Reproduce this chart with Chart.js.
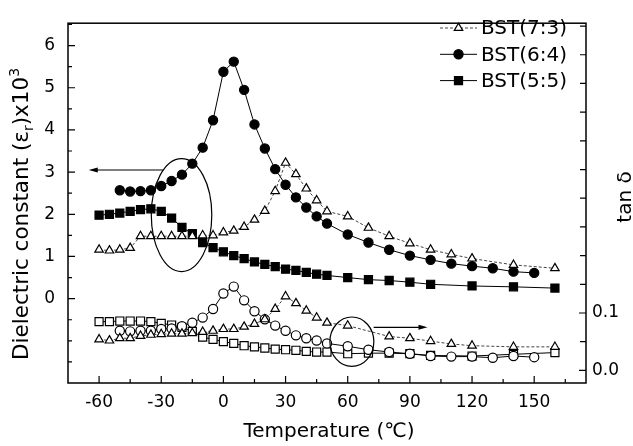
<!DOCTYPE html>
<html><head><meta charset="utf-8">
<script src="https://cdn.jsdelivr.net/npm/chart.js@4/dist/chart.umd.min.js"></script>
<style>html,body{margin:0;padding:0;background:#fff}canvas{display:block}</style>
</head><body>
<canvas id="c" width="633" height="446"></canvas>
<script>
// ---------- data ----------
const seriesLabels = ['BST(7:3)', 'BST(6:4)', 'BST(5:5)'];

const temps73Eps = [-60,-55,-50,-45,-40,-35,-30,-25,-20,-15,-10,-5,0,5,10,15,20,25,30,35,40,45,50,60,70,80,90,100,110,120,140,160];
const eps73 = [1.16,1.14,1.16,1.20,1.48,1.48,1.48,1.48,1.48,1.48,1.50,1.50,1.57,1.61,1.70,1.87,2.08,2.55,3.22,2.95,2.61,2.33,2.07,1.95,1.68,1.48,1.31,1.16,1.05,0.95,0.80,0.72];

const temps64Eps = [-50,-45,-40,-35,-30,-25,-20,-15,-10,-5,0,5,10,15,20,25,30,35,40,45,50,60,70,80,90,100,110,120,130,140,150];
const eps64 = [2.57,2.54,2.55,2.57,2.67,2.79,2.94,3.20,3.58,4.23,5.38,5.62,4.95,4.13,3.56,3.07,2.70,2.40,2.16,1.95,1.78,1.52,1.33,1.16,1.02,0.92,0.83,0.77,0.72,0.64,0.61];

const temps55Eps = [-60,-55,-50,-45,-40,-35,-30,-25,-20,-15,-10,-5,0,5,10,15,20,25,30,35,40,45,50,60,70,80,90,100,120,140,160];
const eps55 = [1.98,2.00,2.03,2.07,2.11,2.13,2.07,1.91,1.69,1.54,1.33,1.21,1.11,1.02,0.95,0.87,0.81,0.76,0.70,0.67,0.62,0.58,0.55,0.50,0.45,0.43,0.39,0.34,0.30,0.28,0.25];

const temps73Tan = [-60,-55,-50,-45,-40,-35,-30,-25,-20,-15,-10,-5,0,5,10,15,20,25,30,35,40,45,50,60,80,90,100,110,120,140,160];
const tan73 = [0.054,0.052,0.056,0.056,0.060,0.062,0.063,0.064,0.064,0.065,0.067,0.069,0.072,0.072,0.076,0.081,0.089,0.107,0.129,0.117,0.104,0.092,0.083,0.078,0.059,0.056,0.051,0.046,0.043,0.041,0.041];

const temps64Tan = [-50,-45,-40,-35,-30,-25,-20,-15,-10,-5,0,5,10,15,20,25,30,35,40,45,50,60,70,80,90,100,110,120,130,140,150];
const tan64 = [0.069,0.068,0.069,0.069,0.072,0.073,0.077,0.083,0.092,0.107,0.134,0.146,0.122,0.103,0.089,0.078,0.069,0.061,0.056,0.052,0.047,0.042,0.036,0.032,0.029,0.025,0.024,0.024,0.022,0.025,0.023];

const temps55Tan = [-60,-55,-50,-45,-40,-35,-30,-25,-20,-15,-10,-5,0,5,10,15,20,25,30,35,40,45,50,60,70,80,90,100,120,140,160];
const tan55 = [0.085,0.085,0.086,0.086,0.086,0.085,0.082,0.079,0.075,0.068,0.058,0.054,0.050,0.047,0.043,0.041,0.039,0.037,0.036,0.035,0.033,0.032,0.032,0.029,0.030,0.030,0.029,0.026,0.025,0.028,0.031];

// tick labels
const xTickLabels = [-60,-30,0,30,60,90,120,150];
const xMinorTicks = [-45,-15,15,45,75,105,135,165];
const yLeftTickLabels = [0,1,2,3,4,5,6];
const yLeftMinorTicks = [-1.5,-1,-0.5,0.5,1.5,2.5,3.5,4.5,5.5,6.5];
const yRightTickLabels = [0.0,0.1];
const yRightMinorTicks = [0.05,0.15,0.2,0.25,0.3,0.35,0.4,0.45,0.5,0.55,0.6];

// ---------- helpers ----------
const pts = (xs, ys) => xs.map((x, i) => ({x: x, y: ys[i]}));
const FONT = '"DejaVu Sans", sans-serif';

function ds(label, xs, ys, axis, style, filled, dashed, r) {
  return {
    label: label, data: pts(xs, ys), yAxisID: axis,
    borderColor: dashed ? '#444' : '#000', borderWidth: 1,
    borderDash: dashed ? [3, 2] : [],
    pointStyle: style, pointRadius: r, pointHoverRadius: r,
    pointBackgroundColor: filled ? '#000' : '#fff',
    pointBorderColor: '#000', pointBorderWidth: 1.2,
    tension: 0, fill: false
  };
}

const datasets = [
  ds(seriesLabels[0], temps73Eps, eps73, 'yL', 'triangle', false, true, 4.9),
  ds(seriesLabels[1], temps64Eps, eps64, 'yL', 'circle', true, false, 4.6),
  ds(seriesLabels[2], temps55Eps, eps55, 'yL', 'rect', true, false, 5.7),
  ds(seriesLabels[0] + ' tanδ', temps73Tan, tan73, 'yR', 'triangle', false, true, 4.9),
  ds(seriesLabels[1] + ' tanδ', temps64Tan, tan64, 'yR', 'circle', false, false, 4.6),
  ds(seriesLabels[2] + ' tanδ', temps55Tan, tan55, 'yR', 'rect', false, false, 5.7)
];

// annotations (in data units): ellipse [cx, cy, rx, ry], arrow [x1, x2, y]
const leftEllipse = [-20.2, 1.98, 14.6, 1.34];
const leftArrow = [-29, -65, 3.05];
const rightEllipse = [62, 0.050, 10.6, 0.043];
const rightArrow = [72.5, 98.5, 0.075];

const overlay = {
  id: 'overlay',
  afterDraw(chart) {
    const ctx = chart.ctx, a = chart.chartArea;
    const x = chart.scales.x, yL = chart.scales.yL, yR = chart.scales.yR;
    ctx.save();
    ctx.strokeStyle = '#000'; ctx.fillStyle = '#000';
    // frame
    ctx.lineWidth = 1.5;
    ctx.strokeRect(a.left, a.top, a.right - a.left, a.bottom - a.top);
    // ticks
    ctx.lineWidth = 1.2;
    ctx.beginPath();
    const tx = (vals, len) => vals.forEach(v => { const p = x.getPixelForValue(v); ctx.moveTo(p, a.bottom); ctx.lineTo(p, a.bottom - len); });
    const tl = (vals, len) => vals.forEach(v => { const p = yL.getPixelForValue(v); ctx.moveTo(a.left, p); ctx.lineTo(a.left + len, p); });
    const tr = (vals, len) => vals.forEach(v => { const p = yR.getPixelForValue(v); ctx.moveTo(a.right, p); ctx.lineTo(a.right - len, p); });
    tx(xTickLabels, 7); tx(xMinorTicks, 4);
    tl(yLeftTickLabels, 7); tl(yLeftMinorTicks, 4);
    tr(yRightTickLabels, 7); tr(yRightMinorTicks, 6);
    ctx.stroke();
    // ellipses
    const ell = (e, ys) => {
      const cx = x.getPixelForValue(e[0]), cy = ys.getPixelForValue(e[1]);
      const rx = Math.abs(x.getPixelForValue(e[0] + e[2]) - cx);
      const ry = Math.abs(ys.getPixelForValue(e[1] + e[3]) - cy);
      ctx.beginPath(); ctx.ellipse(cx, cy, rx, ry, 0, 0, Math.PI * 2); ctx.stroke();
    };
    ctx.lineWidth = 1.2;
    ell(leftEllipse, yL); ell(rightEllipse, yR);
    // arrows
    const arrow = (ar, ys) => {
      const x1 = x.getPixelForValue(ar[0]), x2 = x.getPixelForValue(ar[1]), py = ys.getPixelForValue(ar[2]);
      const d = Math.sign(x2 - x1);
      ctx.beginPath(); ctx.moveTo(x1, py); ctx.lineTo(x2 - d * 6, py); ctx.stroke();
      ctx.beginPath(); ctx.moveTo(x2, py); ctx.lineTo(x2 - d * 9, py - 2.5); ctx.lineTo(x2 - d * 9, py + 2.5); ctx.closePath(); ctx.fill();
    };
    arrow(leftArrow, yL); arrow(rightArrow, yR);
    // legend
    ctx.font = '20px ' + FONT; ctx.textBaseline = 'middle'; ctx.textAlign = 'left';
    [0, 1, 2].forEach((i, k) => {
      const d = chart.data.datasets[i];
      const yy = 28 + k * 26.3;
      ctx.save();
      ctx.strokeStyle = d.borderColor; ctx.lineWidth = 1; ctx.setLineDash(d.borderDash);
      ctx.beginPath(); ctx.moveTo(440, yy); ctx.lineTo(477, yy); ctx.stroke();
      ctx.setLineDash([]);
      ctx.fillStyle = d.pointBackgroundColor; ctx.strokeStyle = '#000'; ctx.lineWidth = 1.2;
      Chart.helpers.drawPoint(ctx, {pointStyle: d.pointStyle, rotation: 0, borderWidth: 1.2, radius: d.pointRadius}, 458.5, yy);
      ctx.restore();
      ctx.fillStyle = '#000';
      ctx.fillText(d.label, 481, yy + 1);
    });
    // axis titles
    ctx.fillStyle = '#000'; ctx.textBaseline = 'alphabetic';
    ctx.font = '20px ' + FONT; ctx.textAlign = 'center';
    ctx.fillText('Temperature (\u2103)', 329, 437);
    // right title
    ctx.save();
    ctx.translate(631, 197); ctx.rotate(-Math.PI / 2);
    ctx.fillText('tan \u03b4', 0, 0);
    ctx.restore();
    // left title with sub/superscript
    ctx.save();
    ctx.translate(28, 214); ctx.rotate(-Math.PI / 2);
    ctx.textAlign = 'left';
    const big = '21.5px ' + FONT, small = '14px ' + FONT;
    const parts = [['Dielectric constant (\u03b5', big, 0], ['r', small, 5], [')x10', big, 0], ['3', small, -9]];
    let total = 0;
    parts.forEach(p => { ctx.font = p[1]; total += ctx.measureText(p[0]).width; });
    let cx = -total / 2;
    parts.forEach(p => { ctx.font = p[1]; ctx.fillText(p[0], cx, p[2]); cx += ctx.measureText(p[0]).width; });
    ctx.restore();
    ctx.restore();
  }
};

const tickFont = {family: FONT, size: 17};
new Chart(document.getElementById('c'), {
  type: 'line',
  data: {datasets: datasets},
  options: {
    responsive: false, animation: false,
    layout: {padding: {top: 8, left: 0, right: 0, bottom: 0}},
    plugins: {legend: {display: false}, tooltip: {enabled: false}},
    scales: {
      x: {
        type: 'linear', position: 'bottom', min: -75, max: 175,
        grid: {display: false, drawTicks: false}, border: {display: false},
        afterBuildTicks: s => { s.ticks = xTickLabels.map(v => ({value: v})); },
        afterFit: s => { s.height = 63; },
        ticks: {font: tickFont, color: '#000', padding: 9, autoSkip: false, maxRotation: 0, callback: v => String(v)}
      },
      yL: {
        type: 'linear', position: 'left', min: -2, max: 6.53,
        grid: {display: false, drawTicks: false}, border: {display: false},
        afterBuildTicks: s => { s.ticks = yLeftTickLabels.map(v => ({value: v})); },
        afterFit: s => { s.width = 68; },
        ticks: {font: tickFont, color: '#000', padding: 13, autoSkip: false, callback: v => String(v)}
      },
      yR: {
        type: 'linear', position: 'right', min: -0.022, max: 0.605,
        grid: {display: false, drawTicks: false}, border: {display: false},
        afterBuildTicks: s => { s.ticks = yRightTickLabels.map(v => ({value: v})); },
        afterFit: s => { s.width = 47; },
        ticks: {font: tickFont, color: '#000', padding: 6, autoSkip: false, callback: v => Number(v).toFixed(1)}
      }
    }
  },
  plugins: [overlay]
});
</script>
</body></html>
